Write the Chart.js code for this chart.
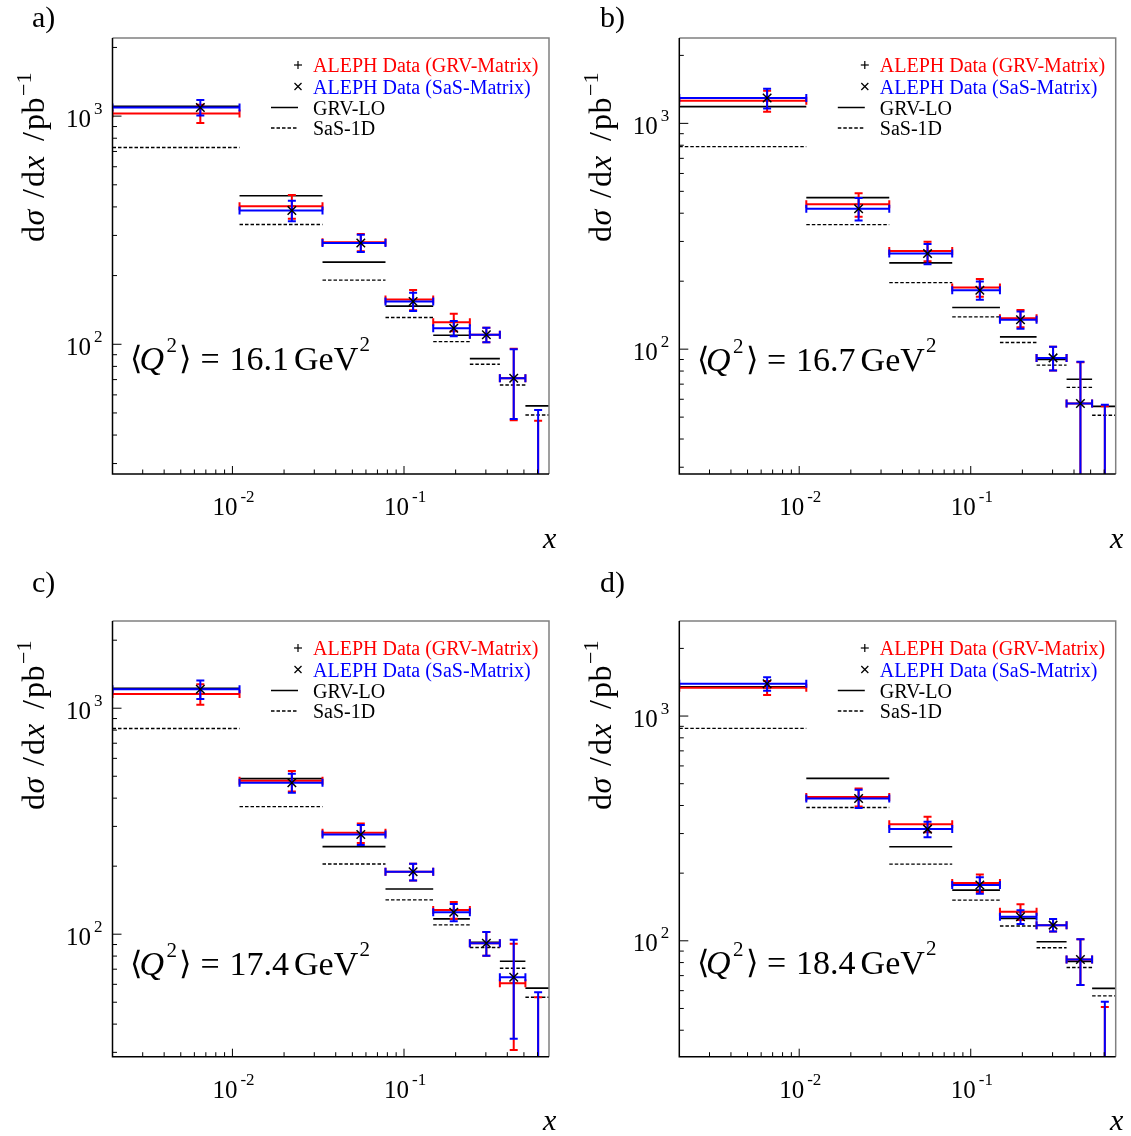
<!DOCTYPE html>
<html>
<head>
<meta charset="utf-8">
<script src="https://cdn.jsdelivr.net/npm/chart.js@4.4.1/dist/chart.umd.min.js"></script>
<style>
  body { margin: 0; background: #fff; }
  #fig { position: relative; width: 1131px; height: 1136px; background: #fff; }
  .panel { position: absolute; }
</style>
</head>
<body>
<div id="fig">
  <div class="panel" style="left:0;top:0"><canvas id="chartA" width="566" height="568"></canvas></div>
  <div class="panel" style="left:566px;top:0"><canvas id="chartB" width="565" height="568"></canvas></div>
  <div class="panel" style="left:0;top:568px"><canvas id="chartC" width="566" height="568"></canvas></div>
  <div class="panel" style="left:566px;top:568px"><canvas id="chartD" width="565" height="568"></canvas></div>
</div>
<script>
// x bins (same in every panel)
const binLow  = [0.002, 0.011, 0.0335, 0.078, 0.148, 0.242, 0.362, 0.51];
const binHigh = [0.011, 0.0335, 0.078, 0.148, 0.242, 0.362, 0.51, 0.7];
const binMid  = [0.0065, 0.0222, 0.056, 0.113, 0.195, 0.302, 0.436, 0.605];

// a) <Q2> = 16.1 GeV2
const grvMatrixA    = [1027, 403, 280, 157, 125, 110, 71, 12];
const grvMatrixErrA = [95, 48, 24, 16, 11, 8, 24.5, 34.2];
const sasMatrixA    = [1091, 386, 278, 154, 117.5, 110, 71, 12];
const sasMatrixErrA = [85, 40, 24, 14, 9, 8, 24, 39.5];
const grvLoA        = [1105, 448, 229, 147, 109.5, 86.5, 71, 53.7];
const sas1dA        = [729, 335, 191, 131, 102.7, 81.7, 66.3, 49];

// b) <Q2> = 16.7 GeV2
const grvMatrixB    = [1260, 438, 272, 187.5, 137, 91.5, 57.5, 12];
const grvMatrixErrB = [135, 52, 27, 17, 12, 11, 30, 43.9];
const sasMatrixB    = [1294, 419, 265, 182.4, 135, 91.5, 57.5, 12];
const sasMatrixErrB = [130, 48, 27, 17, 12, 11, 30.5, 44.7];
const grvLoB        = [1186, 469, 241, 153, 113.3, 90, 73.6, 55.8];
const sas1dB        = [789, 356, 197, 139, 107.1, 85, 67.7, 51];

// c) <Q2> = 17.4 GeV2
const grvMatrixC    = [1156, 478, 281, 189, 128, 91.2, 60.7, 12];
const grvMatrixErrC = [120, 50, 28, 16, 11, 11, 30, 40.6];
const sasMatrixC    = [1213, 468, 276, 189, 125, 91.2, 64.5, 12];
const sasMatrixErrC = [115, 45, 28, 16, 11, 11, 30, 43.3];
const grvLoC        = [1226, 488, 244, 158.6, 116.9, 92, 75.9, 57.7];
const sas1dC        = [813, 367, 204.6, 141.9, 110, 87.3, 70.7, 52.6];

// d) <Q2> = 18.4 GeV2
const grvMatrixD    = [1336, 436, 330, 181, 134.6, 117.4, 82.6, 12];
const grvMatrixErrD = [95, 40, 26, 16, 11, 7.5, 19, 38.8];
const sasMatrixD    = [1392, 430, 314, 177, 127.9, 117.4, 82.6, 12];
const sasMatrixErrD = [95, 40, 25, 15, 9, 7.5, 19, 41.5];
const grvLoD        = [1350, 528, 262, 168, 125.8, 99, 81, 61.4];
const sas1dD        = [881, 392, 219.4, 151.7, 116.3, 93.1, 76.1, 56.9];

const q2Labels = ['16.1', '16.7', '17.4', '18.4'];
const panelTags = ['a)', 'b)', 'c)', 'd)'];
const yMins = [27, 28, 28.7, 30.5];
const yMaxs = [2200, 2388, 2432, 2648];
const legendLabels = ['ALEPH Data (GRV-Matrix)', 'ALEPH Data (SaS-Matrix)', 'GRV-LO', 'SaS-1D'];

const SERIF = '"Liberation Serif", "Times New Roman", serif';
const RED = '#ff0000', BLUE = '#0000ff';

// plot frame inside each canvas + text anchors (canvas coords)
const layouts = [
  { area: [112.5, 38, 549, 474],   tag: [32, 27], yTitle: [44, 242], q2: [130, 370],   xTitle: [543, 548] },
  { area: [113.3, 38, 549.7, 474], tag: [34, 27], yTitle: [45, 242], q2: [130.6, 370.6], xTitle: [544, 548] },
  { area: [112.5, 53, 549, 488.7], tag: [32, 24], yTitle: [44, 242], q2: [130, 407],   xTitle: [543, 562] },
  { area: [113.3, 53, 549.7, 488.7], tag: [34, 24], yTitle: [45, 242], q2: [130.6, 406], xTitle: [544, 562] }
];

function logTicks(min, max) {
  const out = [];
  for (let e = Math.floor(Math.log10(min)); e <= Math.ceil(Math.log10(max)); e++) {
    for (let m = 1; m <= 9; m++) {
      const v = m * Math.pow(10, e);
      if (v > min * 1.001 && v < max * 0.999) out.push({ value: v, major: m === 1 });
    }
  }
  return out;
}

function binPoints(values) {
  return values.map((v, i) => ({ x: binMid[i], y: v }));
}

function stepSegments(values) {
  return values.flatMap((v, i) => [
    { x: binLow[i], y: v }, { x: binHigh[i], y: v }, { x: binHigh[i], y: null }
  ]);
}

function drawErrors(chart, ds) {
  const { ctx, chartArea: a, scales: { x, y } } = chart;
  const cap = 4;
  ctx.save();
  ctx.beginPath();
  ctx.rect(a.left, a.top, a.right - a.left, a.bottom - a.top);
  ctx.clip();
  ctx.strokeStyle = ds.errColor;
  ctx.lineWidth = 2;
  ds.data.forEach((p, i) => {
    const px = x.getPixelForValue(p.x);
    const py = y.getPixelForValue(p.y);
    const x0 = x.getPixelForValue(binLow[i]);
    const x1 = x.getPixelForValue(binHigh[i]);
    const hiVal = p.y + ds.err[i];
    const loVal = p.y - ds.err[i];
    const yTop = y.getPixelForValue(hiVal);
    const yBot = loVal > 0 ? y.getPixelForValue(loVal) : a.bottom + 20;
    ctx.beginPath();
    ctx.moveTo(x0, py); ctx.lineTo(x1, py);
    ctx.moveTo(x0, py - cap); ctx.lineTo(x0, py + cap);
    ctx.moveTo(x1, py - cap); ctx.lineTo(x1, py + cap);
    ctx.moveTo(px, yTop); ctx.lineTo(px, yBot);
    ctx.moveTo(px - cap, yTop); ctx.lineTo(px + cap, yTop);
    if (loVal > 0) { ctx.moveTo(px - cap, yBot); ctx.lineTo(px + cap, yBot); }
    ctx.stroke();
  });
  ctx.restore();
}

function line(ctx, x0, y0, x1, y1) {
  ctx.beginPath(); ctx.moveTo(x0, y0); ctx.lineTo(x1, y1); ctx.stroke();
}

function drawPieces(ctx, x0, base, pieces) {
  pieces.forEach(([txt, off, font, rise]) => {
    ctx.font = font;
    ctx.fillText(txt, x0 + off, base + rise);
  });
}

function makeDecor(idx) {
  const L = layouts[idx];
  return {
    id: 'rootDecor',
    beforeDatasetDraw(chart, args) {
      const ds = chart.data.datasets[args.index];
      if (ds.err && ds.errFirst) drawErrors(chart, ds);
    },
    afterDatasetDraw(chart, args) {
      const ds = chart.data.datasets[args.index];
      if (ds.err && !ds.errFirst) drawErrors(chart, ds);
    },
    afterDraw(chart) {
      const { ctx, chartArea: a, scales: { x, y } } = chart;
      ctx.save();
      // frame
      ctx.lineWidth = 1.5;
      ctx.strokeStyle = '#808080';
      ctx.beginPath(); ctx.moveTo(a.left, a.top); ctx.lineTo(a.right, a.top); ctx.lineTo(a.right, a.bottom); ctx.stroke();
      ctx.strokeStyle = '#000';
      ctx.beginPath(); ctx.moveTo(a.left, a.top); ctx.lineTo(a.left, a.bottom); ctx.lineTo(a.right, a.bottom); ctx.stroke();

      // inward ticks
      ctx.lineWidth = 1;
      x.ticks.forEach(t => {
        const px = x.getPixelForValue(t.value);
        line(ctx, px, a.bottom, px, a.bottom - (t.major ? 8 : 4.5));
      });
      y.ticks.forEach(t => {
        const py = y.getPixelForValue(t.value);
        line(ctx, a.left, py, a.left + (t.major ? 9 : 4.5), py);
      });

      // tick labels 10^n
      ctx.fillStyle = '#000';
      ctx.textBaseline = 'alphabetic';
      x.ticks.filter(t => t.major).forEach(t => {
        const px = x.getPixelForValue(t.value);
        const e = Math.round(Math.log10(t.value));
        ctx.textAlign = 'left';
        ctx.font = `25px ${SERIF}`;
        ctx.fillText('10', px - 20, a.bottom + 41);
        ctx.font = `17px ${SERIF}`;
        ctx.fillText(String(e), px + 8, a.bottom + 28);
      });
      y.ticks.filter(t => t.major).forEach(t => {
        const py = y.getPixelForValue(t.value);
        const e = Math.round(Math.log10(t.value));
        ctx.font = `25px ${SERIF}`;
        ctx.textAlign = 'right';
        ctx.fillText('10', a.left - 21.5, py + 10.5);
        ctx.font = `17px ${SERIF}`;
        ctx.textAlign = 'left';
        ctx.fillText(String(e), a.left - 18.5, py - 2.5);
      });

      // axis titles
      ctx.textAlign = 'left';
      ctx.font = `italic 30px ${SERIF}`;
      ctx.fillText('x', L.xTitle[0], L.xTitle[1]);

      ctx.save();
      ctx.translate(L.yTitle[0], L.yTitle[1]);
      ctx.rotate(-Math.PI / 2);
      drawPieces(ctx, 0, 0, [
        ['d', 0, `32px ${SERIF}`, 0],
        ['\u03C3', 16.5, `italic 32px ${SERIF}`, 0],
        ['/', 44, `32px ${SERIF}`, 0],
        ['d', 55, `32px ${SERIF}`, 0],
        ['x', 72, `italic 32px ${SERIF}`, 0],
        ['/', 101, `32px ${SERIF}`, 0],
        ['p', 112, `32px ${SERIF}`, 0],
        ['b', 128.5, `32px ${SERIF}`, 0],
        ['\u22121', 146, `22px ${SERIF}`, -13]
      ]);
      ctx.restore();

      // panel tag
      ctx.font = `30px ${SERIF}`;
      ctx.fillText(panelTags[idx], L.tag[0], L.tag[1]);

      // <Q2> label
      drawPieces(ctx, L.q2[0], L.q2[1], [
        ['\u27E8', 0, `32px ${SERIF}`, -1],
        ['Q', 9.5, `italic 34px ${SERIF}`, 0],
        ['2', 36.5, `21px ${SERIF}`, -18],
        ['\u27E9', 49, `32px ${SERIF}`, -1],
        ['=', 70.5, `34px ${SERIF}`, 0],
        [q2Labels[idx], 99.5, `34px ${SERIF}`, 0],
        ['GeV', 164, `34px ${SERIF}`, 0],
        ['2', 229.5, `21px ${SERIF}`, -19]
      ]);

      // legend
      const mx = a.left + 185.5, lx0 = a.left + 158.5, tx = a.left + 200.5;
      const rows = [27, 48.5, 69.5, 90].map(r => a.top + r);
      const colors = [RED, BLUE, '#000', '#000'];
      ctx.strokeStyle = '#000';
      ctx.lineWidth = 1.2;
      line(ctx, mx - 4, rows[0], mx + 4, rows[0]);
      line(ctx, mx, rows[0] - 4, mx, rows[0] + 4);
      line(ctx, mx - 3.5, rows[1] - 3.5, mx + 3.5, rows[1] + 3.5);
      line(ctx, mx - 3.5, rows[1] + 3.5, mx + 3.5, rows[1] - 3.5);
      ctx.lineWidth = 1.5;
      line(ctx, lx0, rows[2], mx, rows[2]);
      ctx.setLineDash([3.5, 2]);
      line(ctx, lx0, rows[3], mx, rows[3]);
      ctx.setLineDash([]);
      ctx.font = `20px ${SERIF}`;
      legendLabels.forEach((txt, i) => {
        ctx.fillStyle = colors[i];
        ctx.fillText(txt, tx, rows[i] + 7);
      });
      ctx.restore();
    }
  };
}

function makePanel(idx, canvasId, grv, grvErr, sas, sasErr, grvLo, sas1d) {
  const L = layouts[idx];
  const canvas = document.getElementById(canvasId);
  const W = canvas.width, H = canvas.height;
  const [aL, aT, aR, aB] = L.area;
  new Chart(canvas, {
    type: 'scatter',
    data: {
      datasets: [
        { label: legendLabels[1], data: binPoints(sas), err: sasErr, errColor: BLUE, errFirst: true,
          pointStyle: 'crossRot', pointRadius: 6, pointBorderColor: '#000', pointBorderWidth: 1.5,
          pointBackgroundColor: '#000' },
        { label: legendLabels[0], data: binPoints(grv), err: grvErr, errColor: RED, errFirst: false,
          pointStyle: 'cross', pointRadius: 4, pointBorderColor: '#000', pointBorderWidth: 1.2,
          pointBackgroundColor: '#000' },
        { label: legendLabels[2], data: stepSegments(grvLo), showLine: true, borderColor: '#000',
          borderWidth: 1.6, pointRadius: 0, spanGaps: false },
        { label: legendLabels[3], data: stepSegments(sas1d), showLine: true, borderColor: '#000',
          borderWidth: 1.4, borderDash: [3.5, 2], pointRadius: 0, spanGaps: false }
      ]
    },
    options: {
      responsive: false,
      animation: false,
      events: [],
      layout: { padding: { left: 0, top: aT, right: W - aR, bottom: 0 } },
      plugins: { legend: { display: false }, tooltip: { enabled: false } },
      scales: {
        x: {
          type: 'logarithmic', min: binLow[0], max: binHigh[binHigh.length - 1],
          grid: { display: false }, border: { display: false }, ticks: { display: false },
          afterBuildTicks: s => { s.ticks = logTicks(s.min, s.max); },
          afterFit: s => { s.height = H - aB; }
        },
        y: {
          type: 'logarithmic', min: yMins[idx], max: yMaxs[idx],
          grid: { display: false }, border: { display: false }, ticks: { display: false },
          afterBuildTicks: s => { s.ticks = logTicks(s.min, s.max); },
          afterFit: s => { s.width = aL; }
        }
      }
    },
    plugins: [makeDecor(idx)]
  });
}

makePanel(0, 'chartA', grvMatrixA, grvMatrixErrA, sasMatrixA, sasMatrixErrA, grvLoA, sas1dA);
makePanel(1, 'chartB', grvMatrixB, grvMatrixErrB, sasMatrixB, sasMatrixErrB, grvLoB, sas1dB);
makePanel(2, 'chartC', grvMatrixC, grvMatrixErrC, sasMatrixC, sasMatrixErrC, grvLoC, sas1dC);
makePanel(3, 'chartD', grvMatrixD, grvMatrixErrD, sasMatrixD, sasMatrixErrD, grvLoD, sas1dD);
</script>
</body>
</html>
